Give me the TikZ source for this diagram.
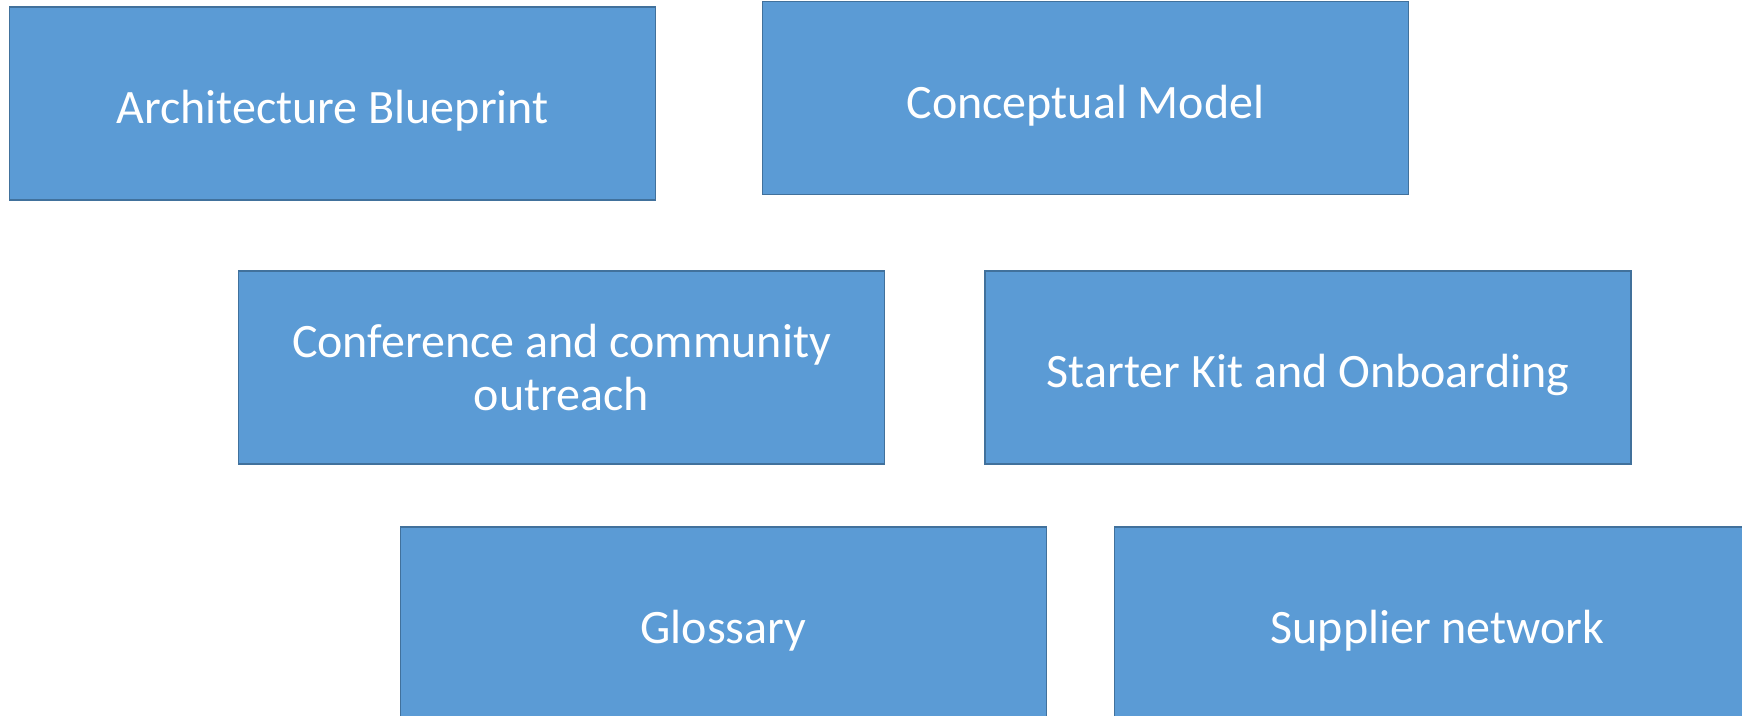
\documentclass[tikz,border=0pt]{standalone}
\usepackage{fontspec}
\setmainfont{Carlito}
\usetikzlibrary{positioning}
\definecolor{boxblue}{HTML}{5B9BD5}
\definecolor{boxedge}{HTML}{41719C}

\begin{document}
\begin{tikzpicture}[x=1pt,y=-1pt,
  topicbox/.style={rectangle,draw=boxedge,line width=1.5pt,fill=boxblue,text=white,
    minimum width=646pt,minimum height=193pt,align=center,inner sep=0pt,
    font=\fontsize{48}{53}\selectfont,execute at begin node={\rule{0pt}{48pt}}}]

       \clip (0,0) rectangle (1742,715);
       \node [topicbox]  (blueprint)  at (332.5,103.5)  {Architecture Blueprint};
       \node [topicbox]  (model)      at (1085.5,98)    {Conceptual Model};
       \node [topicbox]  (outreach)   at (561.5,367.5)  {Conference and community\\outreach};
       \node [topicbox]  (starterkit) at (1308,367.5)   {Starter Kit and Onboarding};
       \node [topicbox]  (glossary)   at (723.5,623.5)  {Glossary};
       \node [topicbox]  (suppliers)  at (1437.5,623.5) {Supplier network};
\end{tikzpicture}
\end{document}
